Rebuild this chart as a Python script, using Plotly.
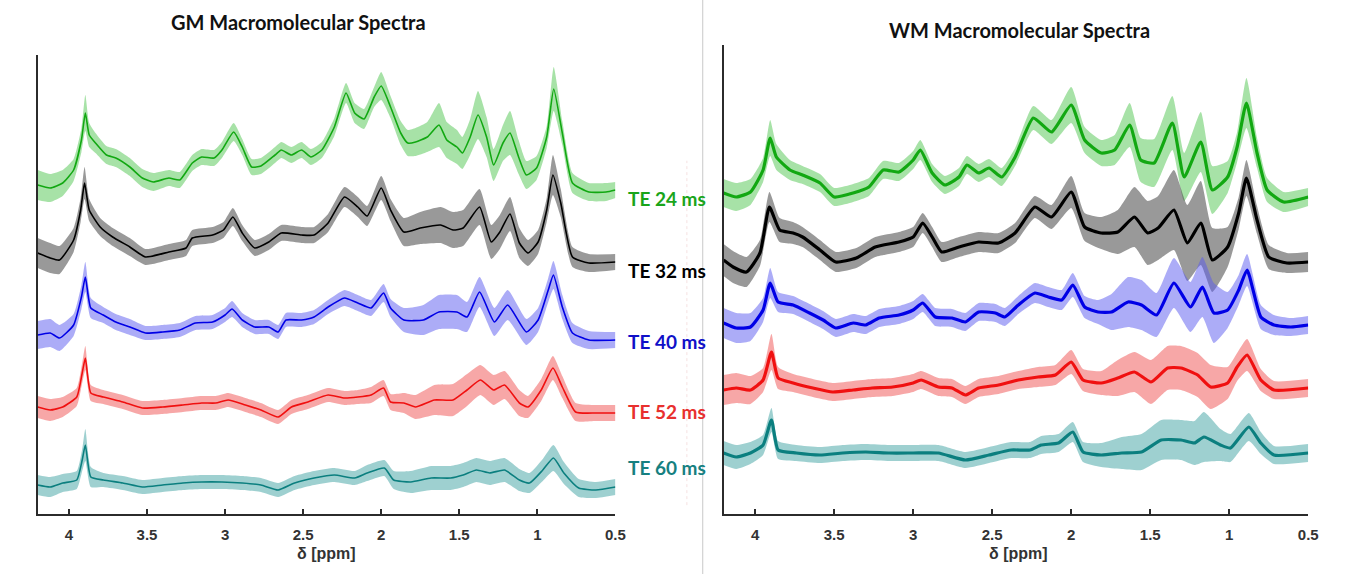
import plotly.graph_objects as go

# ---------------- DATA (chemical shift in ppm, intensity in a.u., band half-width in a.u.) -------------
# GM panel
GM_GREEN_X = [4.2, 4.12, 4.04, 3.97, 3.92, 3.895, 3.87, 3.83, 3.76, 3.70, 3.61, 3.53, 3.46, 3.36, 3.29, 3.21, 3.15, 3.07, 3.02, 2.945, 2.89, 2.83, 2.77, 2.68, 2.64, 2.575, 2.51, 2.45, 2.38, 2.30, 2.225, 2.17, 2.11, 2.045, 2.0, 1.94, 1.875, 1.83, 1.78, 1.705, 1.63, 1.58, 1.515, 1.48, 1.43, 1.38, 1.325, 1.28, 1.22, 1.175, 1.12, 1.07, 1.005, 0.94, 0.895, 0.84, 0.775, 0.67, 0.56, 0.5]
GM_GREEN_Y = [329, 326, 331, 344, 374, 401, 379, 371, 359, 356, 347, 336, 332, 336, 334, 351, 357, 356, 364, 382, 367, 347, 348, 359, 364, 359, 364, 357, 364, 387, 421, 401, 395, 417, 428, 407, 381, 371, 372, 377, 389, 374, 367, 361, 377, 399, 377, 349, 371, 381, 357, 339, 346, 377, 425, 381, 331, 322, 322, 324]
GM_GREEN_W = [15, 14, 13, 11, 12, 18, 12, 10, 9, 9, 9, 9, 9, 8, 8, 8, 8, 8, 8, 9, 8, 8, 8, 8, 8, 8, 8, 8, 8, 9, 10, 10, 10, 10, 14, 11, 12, 13, 14, 15, 22, 18, 17, 16, 18, 24, 20, 16, 18, 22, 17, 14, 12, 11, 22, 12, 10, 9, 9, 8]

GM_BLACK_X = [4.2, 4.12, 4.06, 3.97, 3.925, 3.9, 3.87, 3.80, 3.72, 3.61, 3.51, 3.36, 3.25, 3.21, 3.08, 3.01, 2.95, 2.89, 2.81, 2.72, 2.64, 2.51, 2.43, 2.34, 2.235, 2.15, 2.09, 2.0, 1.94, 1.855, 1.75, 1.62, 1.54, 1.475, 1.37, 1.295, 1.24, 1.175, 1.115, 1.06, 0.995, 0.94, 0.90, 0.85, 0.775, 0.67, 0.5]
GM_BLACK_Y = [261, 256, 254, 274, 304, 331, 304, 287, 277, 267, 257, 262, 266, 276, 279, 284, 297, 281, 266, 272, 281, 279, 279, 291, 317, 307, 298, 326, 304, 282, 286, 289, 284, 286, 307, 272, 282, 300, 271, 261, 272, 304, 339, 311, 257, 251, 252]
GM_BLACK_W = [15, 15, 14, 12, 12, 16, 11, 9, 9, 9, 8, 8, 8, 8, 8, 8, 9, 8, 8, 8, 8, 8, 8, 9, 10, 10, 10, 12, 11, 14, 16, 18, 18, 18, 18, 17, 17, 17, 15, 13, 12, 12, 20, 14, 10, 9, 8]

GM_BLUE_X = [4.2, 4.12, 4.06, 3.97, 3.92, 3.895, 3.86, 3.78, 3.70, 3.61, 3.51, 3.40, 3.29, 3.19, 3.08, 3.0, 2.955, 2.89, 2.81, 2.72, 2.66, 2.61, 2.51, 2.43, 2.34, 2.235, 2.15, 2.065, 1.985, 1.94, 1.855, 1.73, 1.63, 1.515, 1.45, 1.37, 1.275, 1.19, 1.07, 0.995, 0.93, 0.897, 0.84, 0.775, 0.67, 0.5]
GM_BLUE_Y = [179, 181, 176, 189, 217, 237, 206, 199, 192, 187, 181, 182, 184, 191, 192, 199, 205, 194, 187, 187, 182, 194, 194, 197, 207, 216, 211, 206, 221, 206, 194, 194, 202, 202, 197, 222, 192, 209, 182, 194, 224, 239, 207, 181, 174, 174]
GM_BLUE_W = [14, 14, 13, 11, 12, 15, 10, 8, 8, 8, 7, 7, 7, 7, 7, 7, 8, 7, 7, 7, 7, 7, 7, 7, 7, 8, 8, 8, 9, 9, 12, 15, 17, 17, 15, 15, 14, 15, 13, 12, 12, 14, 12, 10, 9, 8]

GM_RED_X = [4.2, 4.12, 4.04, 3.95, 3.915, 3.895, 3.86, 3.78, 3.655, 3.53, 3.40, 3.27, 3.15, 3.06, 2.98, 2.87, 2.77, 2.66, 2.575, 2.47, 2.34, 2.235, 2.15, 2.065, 1.985, 1.94, 1.855, 1.78, 1.66, 1.54, 1.45, 1.365, 1.28, 1.21, 1.115, 1.06, 0.975, 0.90, 0.84, 0.755, 0.625, 0.5]
GM_RED_Y = [107, 104, 107, 117, 141, 156, 121, 117, 112, 106, 107, 109, 111, 111, 114, 109, 104, 97, 107, 112, 119, 116, 117, 119, 126, 112, 111, 107, 114, 114, 124, 134, 124, 129, 111, 107, 124, 146, 127, 102, 101, 101]
GM_RED_W = [11, 11, 10, 9, 10, 12, 8, 7, 7, 7, 7, 7, 7, 7, 7, 7, 7, 7, 7, 7, 7, 7, 7, 8, 8, 8, 10, 12, 15, 16, 16, 15, 15, 14, 13, 11, 11, 12, 11, 9, 8, 8]

GM_TEAL_X = [4.2, 4.12, 4.04, 3.95, 3.915, 3.895, 3.86, 3.78, 3.655, 3.53, 3.40, 3.27, 3.15, 3.02, 2.89, 2.77, 2.66, 2.555, 2.43, 2.30, 2.17, 2.09, 1.98, 1.92, 1.81, 1.68, 1.555, 1.475, 1.39, 1.305, 1.21, 1.115, 1.05, 0.965, 0.897, 0.83, 0.735, 0.625, 0.5]
GM_TEAL_Y = [29, 27, 31, 34, 54, 69, 37, 34, 31, 27, 29, 31, 32, 32, 31, 29, 24, 31, 36, 39, 36, 41, 46, 34, 32, 36, 36, 39, 44, 41, 44, 34, 31, 44, 56, 41, 26, 24, 27]
GM_TEAL_W = [10, 10, 9, 9, 11, 16, 10, 7, 7, 7, 7, 7, 7, 7, 7, 7, 7, 7, 7, 7, 7, 8, 8, 9, 11, 12, 12, 12, 12, 12, 12, 11, 10, 11, 13, 11, 9, 8, 8]

# WM panel
WM_GREEN_X = [4.2, 4.12, 4.03, 3.95, 3.905, 3.866, 3.78, 3.70, 3.59, 3.50, 3.38, 3.28, 3.19, 3.09, 3.0, 2.955, 2.88, 2.80, 2.71, 2.66, 2.586, 2.52, 2.44, 2.355, 2.24, 2.125, 2.0, 1.915, 1.81, 1.725, 1.63, 1.56, 1.475, 1.36, 1.285, 1.18, 1.107, 1.01, 0.95, 0.891, 0.824, 0.76, 0.656, 0.5]
WM_GREEN_Y = [321, 317, 322, 344, 376, 357, 344, 339, 331, 317, 321, 327, 344, 342, 354, 364, 341, 329, 337, 349, 341, 346, 337, 357, 396, 382, 409, 374, 361, 364, 389, 354, 351, 391, 337, 372, 324, 337, 367, 411, 361, 324, 312, 317]
WM_GREEN_W = [14, 14, 13, 12, 18, 13, 10, 9, 9, 9, 9, 9, 9, 9, 9, 10, 9, 9, 9, 9, 9, 9, 9, 9, 12, 12, 18, 13, 13, 15, 22, 22, 24, 27, 24, 30, 24, 16, 15, 25, 15, 12, 10, 9]

WM_BLACK_X = [4.2, 4.14, 4.055, 3.97, 3.91, 3.845, 3.76, 3.70, 3.59, 3.49, 3.36, 3.24, 3.09, 3.0, 2.94, 2.88, 2.82, 2.71, 2.586, 2.46, 2.355, 2.23, 2.125, 2.0, 1.915, 1.81, 1.705, 1.60, 1.516, 1.45, 1.35, 1.265, 1.18, 1.107, 1.01, 0.94, 0.891, 0.824, 0.75, 0.635, 0.5]
WM_BLACK_Y = [254, 247, 242, 261, 307, 284, 281, 277, 264, 252, 256, 267, 272, 277, 291, 277, 262, 267, 272, 271, 281, 307, 297, 322, 287, 281, 282, 297, 281, 286, 304, 271, 291, 254, 267, 301, 336, 294, 257, 251, 252]
WM_BLACK_W = [16, 16, 15, 13, 15, 12, 11, 10, 10, 10, 10, 10, 10, 10, 10, 10, 10, 10, 10, 10, 10, 11, 12, 16, 14, 16, 22, 30, 32, 32, 40, 38, 42, 32, 20, 16, 18, 14, 12, 10, 10]

WM_BLUE_X = [4.2, 4.12, 4.03, 3.95, 3.905, 3.855, 3.76, 3.656, 3.57, 3.49, 3.38, 3.30, 3.215, 3.09, 3.0, 2.94, 2.86, 2.755, 2.67, 2.586, 2.48, 2.42, 2.335, 2.23, 2.145, 2.06, 1.99, 1.915, 1.83, 1.745, 1.64, 1.555, 1.46, 1.35, 1.245, 1.17, 1.097, 1.01, 0.94, 0.887, 0.80, 0.717, 0.61, 0.5]
WM_BLUE_Y = [191, 186, 187, 204, 231, 212, 209, 201, 194, 186, 191, 189, 196, 199, 204, 211, 197, 196, 192, 202, 201, 197, 209, 221, 217, 214, 229, 207, 202, 202, 212, 209, 199, 231, 207, 227, 201, 204, 224, 244, 197, 189, 187, 189]
WM_BLUE_W = [15, 15, 14, 12, 15, 10, 9, 9, 9, 9, 9, 9, 9, 9, 9, 9, 9, 9, 9, 9, 9, 9, 9, 10, 10, 10, 12, 11, 12, 18, 25, 25, 22, 25, 25, 30, 30, 18, 15, 16, 12, 10, 9, 9]

WM_RED_X = [4.2, 4.12, 4.03, 3.95, 3.897, 3.855, 3.76, 3.635, 3.51, 3.38, 3.26, 3.13, 3.0, 2.95, 2.84, 2.755, 2.67, 2.586, 2.46, 2.335, 2.21, 2.10, 2.0, 1.925, 1.81, 1.705, 1.60, 1.495, 1.39, 1.305, 1.20, 1.118, 1.01, 0.95, 0.887, 0.80, 0.717, 0.5]
WM_RED_Y = [124, 126, 124, 134, 162, 136, 131, 126, 122, 124, 126, 127, 131, 134, 127, 126, 119, 126, 129, 134, 137, 139, 152, 134, 131, 136, 142, 132, 146, 146, 139, 127, 131, 147, 159, 134, 124, 126]
WM_RED_W = [15, 15, 14, 12, 18, 11, 9, 9, 9, 9, 9, 9, 9, 9, 9, 9, 9, 9, 9, 9, 10, 10, 12, 11, 12, 18, 20, 22, 22, 22, 22, 22, 16, 14, 16, 11, 9, 9]

WM_TEAL_X = [4.2, 4.12, 4.03, 3.95, 3.897, 3.855, 3.74, 3.59, 3.446, 3.30, 3.15, 3.0, 2.84, 2.67, 2.52, 2.38, 2.26, 2.19, 2.08, 1.99, 1.925, 1.81, 1.68, 1.555, 1.43, 1.305, 1.22, 1.16, 1.055, 0.992, 0.876, 0.80, 0.717, 0.5]
WM_TEAL_Y = [61, 57, 61, 69, 94, 64, 61, 59, 61, 62, 61, 61, 61, 54, 59, 64, 64, 69, 71, 82, 62, 59, 61, 62, 74, 74, 71, 77, 69, 66, 87, 71, 59, 61]
WM_TEAL_W = [12, 12, 11, 10, 12, 9, 8, 8, 8, 8, 8, 8, 8, 8, 8, 8, 8, 9, 9, 10, 10, 12, 16, 18, 20, 20, 22, 25, 16, 14, 14, 11, 9, 9]

TE_LABELS = ["TE 24 ms", "TE 32 ms", "TE 40 ms", "TE 52 ms", "TE 60 ms"]
PANEL_TITLES = ["GM Macromolecular Spectra", "WM Macromolecular Spectra"]
X_TICKS = [4, 3.5, 3, 2.5, 2, 1.5, 1, 0.5]
X_TICK_TEXT = ["4", "3.5", "3", "2.5", "2", "1.5", "1", "0.5"]

# ---------------- STYLE ----------------
LINE_COLORS = ["#12a812", "#000000", "#0000e6", "#f01010", "#0b7f7f"]
BAND_COLORS = ["rgba(60,190,60,0.45)", "rgba(70,70,70,0.55)", "rgba(90,90,240,0.5)",
               "rgba(240,80,80,0.5)", "rgba(40,150,150,0.45)"]
LABEL_COLORS = ["#1aa51a", "#000000", "#1010c8", "#e8302e", "#168080"]

W, H = 1348, 574
AX_BOTTOM = 514
L_LEFT, L_RIGHT, L_TOP = 38, 620, 55
R_LEFT, R_RIGHT, R_TOP = 729, 1318, 45
AXCOL = "#2b2b2b"

fig = go.Figure()

def add_series(xs, ys, ws, idx, xa, ya, lw):
    up = [y + w for y, w in zip(ys, ws)]
    lo = [y - w for y, w in zip(ys, ws)]
    ln = dict(width=0, color=BAND_COLORS[idx], shape="spline", smoothing=0.5)
    fig.add_trace(go.Scatter(x=xs, y=up, mode="lines", line=ln,
                             xaxis=xa, yaxis=ya, showlegend=False, hoverinfo="skip"))
    fig.add_trace(go.Scatter(x=xs, y=lo, mode="lines", line=ln,
                             fill="tonexty", fillcolor=BAND_COLORS[idx],
                             xaxis=xa, yaxis=ya, showlegend=False, hoverinfo="skip"))
    fig.add_trace(go.Scatter(x=xs, y=ys, mode="lines",
                             line=dict(width=lw, color=LINE_COLORS[idx], shape="spline", smoothing=0.5),
                             xaxis=xa, yaxis=ya, showlegend=False))

gm = [(GM_GREEN_X, GM_GREEN_Y, GM_GREEN_W), (GM_BLACK_X, GM_BLACK_Y, GM_BLACK_W),
      (GM_BLUE_X, GM_BLUE_Y, GM_BLUE_W), (GM_RED_X, GM_RED_Y, GM_RED_W),
      (GM_TEAL_X, GM_TEAL_Y, GM_TEAL_W)]
wm = [(WM_GREEN_X, WM_GREEN_Y, WM_GREEN_W), (WM_BLACK_X, WM_BLACK_Y, WM_BLACK_W),
      (WM_BLUE_X, WM_BLUE_Y, WM_BLUE_W), (WM_RED_X, WM_RED_Y, WM_RED_W),
      (WM_TEAL_X, WM_TEAL_Y, WM_TEAL_W)]

for i, (xs, ys, ws) in enumerate(gm):
    add_series(xs, ys, ws, i, "x", "y", 1.6)
for i, (xs, ys, ws) in enumerate(wm):
    add_series(xs, ys, ws, i, "x2", "y2", 3.2)

def xaxis_cfg(left, right):
    return dict(domain=[left / W, right / W], range=[4.2, 0.5], tickvals=X_TICKS, ticktext=X_TICK_TEXT,
                ticks="inside", ticklen=5, tickwidth=1.5, tickcolor=AXCOL,
                showline=True, linecolor=AXCOL, linewidth=1.6, showgrid=False, zeroline=False,
                tickfont=dict(family="Liberation Sans, Arial", size=15, color="#333333", weight="bold"),
                ticklabelstandoff=6, fixedrange=True)

def yaxis_cfg(top, anchor):
    return dict(domain=[(H - AX_BOTTOM) / H, (H - top) / H], range=[0, AX_BOTTOM - top],
                showline=True, linecolor=AXCOL, linewidth=1.6, showgrid=False, zeroline=False,
                showticklabels=False, ticks="", anchor=anchor, fixedrange=True)

fig.update_layout(
    width=W, height=H, margin=dict(l=0, r=0, t=0, b=0),
    paper_bgcolor="white", plot_bgcolor="white",
    xaxis=dict(anchor="y", **xaxis_cfg(L_LEFT, L_RIGHT)),
    yaxis=yaxis_cfg(L_TOP, "x"),
    xaxis2=dict(anchor="y2", **xaxis_cfg(R_LEFT, R_RIGHT)),
    yaxis2=yaxis_cfg(R_TOP, "x2"),
    showlegend=False,
)

ann = []
# panel titles
ann.append(dict(text=PANEL_TITLES[0], x=301 / W, y=1 - 22 / H, xref="paper", yref="paper",
                showarrow=False, xanchor="center", yanchor="middle",
                font=dict(family="Lato, Open Sans", size=20, color="#111111", weight="bold")))
ann.append(dict(text=PANEL_TITLES[1], x=1027 / W, y=1 - 30 / H, xref="paper", yref="paper",
                showarrow=False, xanchor="center", yanchor="middle",
                font=dict(family="Lato, Open Sans", size=20, color="#111111", weight="bold")))
# x titles
for cx in [(L_LEFT + L_RIGHT) / 2, (R_LEFT + R_RIGHT) / 2 + 3]:
    ann.append(dict(text="δ [ppm]", x=cx / W, y=1 - 553 / H, xref="paper", yref="paper",
                    showarrow=False, xanchor="center", yanchor="middle",
                    font=dict(family="Liberation Sans, Arial", size=16, color="#333333", weight="bold")))
# TE labels
for lab, col, py in zip(TE_LABELS, LABEL_COLORS, [198, 270, 341, 411, 467]):
    ann.append(dict(text=lab, x=631 / W, y=1 - py / H, xref="paper", yref="paper",
                    showarrow=False, xanchor="left", yanchor="middle",
                    font=dict(family="Lato, Open Sans", size=19, color=col, weight="bold")))
fig.update_layout(annotations=ann)

# image separators
fig.add_shape(type="line", xref="paper", yref="paper", x0=708 / W, x1=708 / W, y0=0, y1=1,
              line=dict(color="#c8c8c8", width=1))
fig.add_shape(type="line", xref="paper", yref="paper", x0=692 / W, x1=692 / W, y0=0.12, y1=0.72,
              line=dict(color="rgba(220,140,140,0.25)", width=1, dash="dot"))

fig.write_html("out.html")
